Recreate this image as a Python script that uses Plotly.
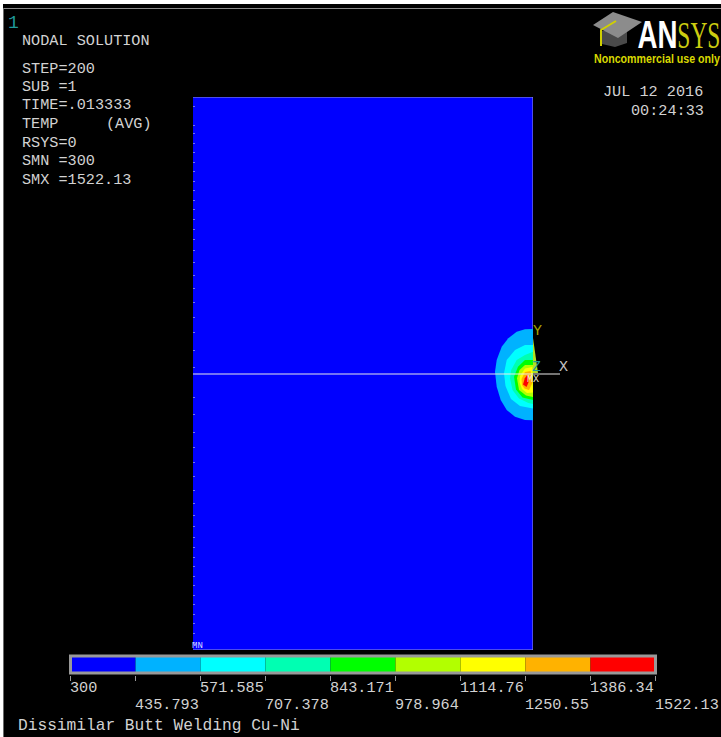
import plotly.graph_objects as go

W, H = 721, 737

# ---- data -----------------------------------------------------------------
BAND_EDGES = [300, 435.793, 571.585, 707.378, 843.171, 978.964, 1114.76, 1250.55, 1386.34, 1522.13]
BAND_LABELS = ["300", "435.793", "571.585", "707.378", "843.171", "978.964", "1114.76", "1250.55", "1386.34", "1522.13"]
BAND_COLORS = ["#0000ff", "#00b2ff", "#00ffff", "#00ffb2", "#00ff00", "#b2ff00", "#ffff00", "#ffb200", "#ff0000"]

PLATE_X = [0, 340, 340, 0]
PLATE_Y = [0, 0, 553, 553]
MESH_TICKS = [544, 525, 517, 507, 498, 488, 479, 469, 460, 450, 441, 431, 421, 411, 400, 388, 375, 362,
              348, 333, 318, 300, 283, 253, 236, 218, 203, 188, 174, 160, 147, 135, 124, 113, 103, 93,
              84, 74, 65, 55, 46, 36, 27, 17, 8]

C1_X = [340, 332, 323.7, 315.3, 308.7, 303.7, 302, 303.7, 307.7, 313.7, 322, 332, 340]
C1_Y = [321, 320.7, 318.3, 311.7, 303.3, 290, 278.3, 263.3, 250, 240, 233.3, 230, 229.7]
C2_X = [340, 332, 322, 313.7, 311, 312.5, 318, 327, 340]
C2_Y = [305, 305, 300, 290, 276.7, 264, 251, 244, 241.5]
C3_X = [340, 332, 323.7, 318.2, 317, 319.5, 326, 335.3, 340]
C3_Y = [298.3, 295, 290, 280, 271.7, 260, 251.5, 247, 246]
C4_X = [340, 332, 325, 321, 323, 329.5, 340]
C4_Y = [290, 290, 283.3, 273.3, 260.5, 252.5, 250]
C5_X = [340, 332, 326.5, 324, 326, 333, 340]
C5_Y = [285, 285, 280, 271.7, 260, 254.5, 253]
C6_X = [339.3, 332, 327, 326.5, 329, 334, 340]
C6_Y = [283, 281.5, 274, 268, 261, 257, 257.5]
C7_X = [337.5, 332, 328.5, 329, 331.5, 336, 340]
C7_Y = [279, 278, 271, 265, 261.5, 260, 268.3]
C8_X = [334.5, 331.8, 330, 333.5, 335.8]
C8_Y = [275.5, 271.7, 265.5, 263, 268.3]

INFO_LINES = [("NODAL SOLUTION", 22, 40), ("STEP=200", 22, 68), ("SUB =1", 22, 86), ("TIME=.013333", 22, 104),
              ("TEMP", 22, 123), ("(AVG)", 106, 123), ("RSYS=0", 22, 142), ("SMN =300", 22, 160),
              ("SMX =1522.13", 22, 179), ("JUL 12 2016", 603, 91), ("00:24:33", 631, 110)]
TITLE = "Dissimilar Butt Welding Cu-Ni"

# ---- helpers --------------------------------------------------------------
def px(x):
    return x / W

def py(y):
    return 1 - y / H

MONO = "Liberation Mono"
TXT = "#d2d2d2"

def note(text, x, y, size=15.2, color=TXT, family=MONO, xref="paper", anchor="left", xshift=0):
    return dict(text=text, x=px(x) if xref == "paper" else x, y=py(y + 1), xref=xref, yref="paper",
                xanchor=anchor, yanchor="middle", showarrow=False, xshift=xshift,
                font=dict(family=family, size=size, color=color), borderpad=0, borderwidth=0)

def pxpath(pts, close=True):
    s = "M" + " L".join(f"{px(a):.5f},{py(b):.5f}" for a, b in pts)
    return s + (" Z" if close else "")

fig = go.Figure()

# plate
fig.add_trace(go.Scatter(x=PLATE_X, y=PLATE_Y, mode="lines", fill="toself", fillcolor=BAND_COLORS[0],
                         line=dict(color="#9a9ad8", width=1), hoverinfo="skip", showlegend=False,
                         xaxis="x", yaxis="y"))
# contour bands, outermost first
contours = [(C1_X, C1_Y), (C2_X, C2_Y), (C3_X, C3_Y), (C4_X, C4_Y), (C5_X, C5_Y), (C6_X, C6_Y), (C7_X, C7_Y), (C8_X, C8_Y)]
for (cx, cy), col in zip(contours, BAND_COLORS[1:]):
    fig.add_trace(go.Scatter(x=cx, y=cy, mode="lines", fill="toself", fillcolor=col,
                             line=dict(width=0, color=col), hoverinfo="skip", showlegend=False,
                             xaxis="x", yaxis="y"))
# legend bar
fig.add_trace(go.Bar(x=BAND_EDGES[:-1], y=[0.75] * 9, base=0.125, offset=0,
                     width=[b - a for a, b in zip(BAND_EDGES[:-1], BAND_EDGES[1:])],
                     marker=dict(color=BAND_COLORS, line=dict(width=0)),
                     hoverinfo="skip", showlegend=False, xaxis="x2", yaxis="y2"))

annotations = [note(t, x, y) for t, x, y in INFO_LINES]
annotations.append(note(TITLE, 18, 725, size=16.2))
for i, (edge, lab) in enumerate(zip(BAND_EDGES, BAND_LABELS)):
    annotations.append(note(lab, edge, 687 if i % 2 == 0 else 704, xref="x2", xshift=-1))
annotations += [
    note("1", 8, 22, size=18, color="#1f9a9a"),
    note("MN", 192, 644.5, size=9, color="#d8d8ff"),
    note("MX", 527, 378.5, size=10, color="#f0e8d8"),
    note("Y", 533, 330, size=15, color="#a3a300"),
    note("X", 559, 367, size=15, color="#c4c4c4"),
    note("Z", 532, 367, size=15, color="#1f9a9a"),
    note("<b>AN</b>", 657, 34, size=38, color="#ffffff", family="Liberation Sans, sans-serif", anchor="center"),
    note("SYS", 698.5, 34, size=38, color="#cccc10", family="Liberation Serif, serif", anchor="center"),
    note("<b>Noncommercial use only</b>", 657, 58, size=12.5, color="#d8d800", family="Liberation Sans, sans-serif", anchor="center"),
]

shapes = [
    # window edges
    dict(type="rect", xref="paper", yref="paper", x0=0, x1=1, y0=py(4), y1=1, fillcolor="#ffffff", line_width=0, layer="below"),
    dict(type="rect", xref="paper", yref="paper", x0=0, x1=px(3), y0=0, y1=1, fillcolor="#ffffff", line_width=0, layer="below"),
    dict(type="line", xref="paper", yref="paper", x0=px(3), x1=1, y0=py(8.5), y1=py(8.5), line=dict(color="#8a8a8a", width=1)),
    dict(type="line", xref="paper", yref="paper", x0=px(3.5), x1=px(3.5), y0=0, y1=py(8), line=dict(color="#6a6a6a", width=1)),
    # legend frame
    dict(type="rect", xref="paper", yref="paper", x0=px(70.5), x1=px(655.5), y0=py(673), y1=py(656),
         line=dict(color="#999999", width=3), fillcolor="rgba(0,0,0,0)"),
    # symmetry line and triad
    dict(type="line", xref="paper", yref="paper", x0=px(193), x1=px(560), y0=py(374), y1=py(374), line=dict(color="#e8e8e8", width=1)),
    dict(type="path", xref="paper", yref="paper", path=pxpath([(533, 338), (538, 373), (533, 373)]),
         fillcolor="#b0e020", line_width=0),
    # logo: cap
    dict(type="path", xref="paper", yref="paper", path=pxpath([(602, 31), (627, 30), (627, 43), (615, 47), (602, 44)]),
         fillcolor="#4a4a4a", line_width=0),
    dict(type="path", xref="paper", yref="paper", path=pxpath([(593, 25), (613, 12), (642, 22), (618, 38)]),
         fillcolor="#8c8c8c", line_width=0),
    dict(type="path", xref="paper", yref="paper", path=pxpath([(616, 21), (601, 30), (601, 46)], close=False),
         line=dict(color="#d0d000", width=2)),
]

fig.update_layout(
    width=W, height=H, autosize=False, margin=dict(l=0, r=0, t=0, b=0),
    paper_bgcolor="#000000", plot_bgcolor="#000000",
    showlegend=False, hovermode=False, annotations=annotations, shapes=shapes,
    xaxis=dict(domain=[px(193), px(533)], range=[0, 340], visible=False, fixedrange=True),
    yaxis=dict(domain=[py(650), py(97)], range=[0, 553], showgrid=False, zeroline=False, showline=False,
               showticklabels=False, tickmode="array", tickvals=MESH_TICKS, ticks="inside", ticklen=2,
               tickwidth=1, tickcolor="#7070f0", anchor="x", fixedrange=True),
    xaxis2=dict(domain=[px(70.5), px(655.5)], range=[300, 1522.13], anchor="y2", showgrid=False, zeroline=False,
                showline=False, showticklabels=False, tickmode="array", tickvals=BAND_EDGES, ticks="outside",
                ticklen=5, tickwidth=1, tickcolor="#999999", fixedrange=True),
    yaxis2=dict(domain=[py(674.5), py(654.5)], range=[0, 1], visible=False, anchor="x2", fixedrange=True),
)

post = """
document.documentElement.style.overflow='hidden';
document.documentElement.style.background='#000';
document.body.style.margin='0';
var fit={'AN':40,'SYS':43,'Noncommercial use only':126};
document.querySelectorAll('.annotation-text').forEach(function(t){
  var n=fit[t.textContent];
  if(n){
    t.setAttribute('textLength',n);t.setAttribute('lengthAdjust','spacingAndGlyphs');
    var a=t.closest('.annotation');
    if(a){a.querySelectorAll('[clip-path]').forEach(function(c){c.removeAttribute('clip-path');});}
  }
});
"""
fig.write_html("out.html", config={"displayModeBar": False}, post_script=post)
